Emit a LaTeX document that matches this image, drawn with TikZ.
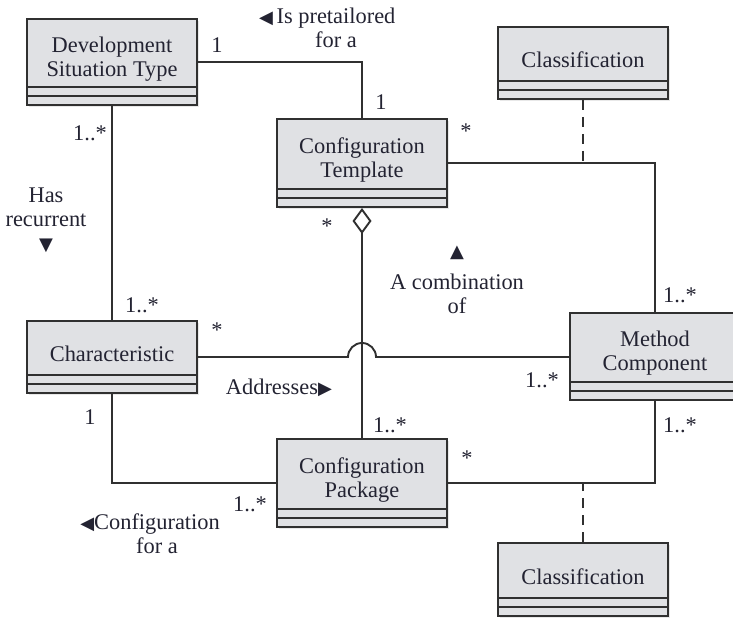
\documentclass[tikz,border=0pt]{standalone}
\usepackage{fontspec}
\setmainfont{Liberation Serif}
\newfontfamily\symfont{DejaVu Sans}
\usepackage{xcolor}
\definecolor{classfill}{RGB}{224,225,228}
\definecolor{classdraw}{RGB}{48,48,48}
\definecolor{inkblue}{RGB}{35,35,50}
\usepackage{tikz}
\usetikzlibrary{arrows.meta}
\usetikzlibrary{shadows}
\newcommand{\widthclass}{85pt}
\newcommand{\heightcomp}{4.5pt}
\newcommand{\hopradius}{7pt}
\newcommand{\dirleft}{{\symfont\fontsize{9}{9}\selectfont ◀}}
\newcommand{\dirright}{{\symfont\fontsize{9}{9}\selectfont ▶}}
\newcommand{\dirup}{{\symfont\fontsize{9}{9}\selectfont ▲}}
\newcommand{\dirdown}{{\symfont\fontsize{9}{9}\selectfont ▼}}
\tikzset{
    every node/.style={text=inkblue, font=\fontsize{11.2}{12}\selectfont},
    umlclass/.style={draw=classdraw, fill=classfill, line width=1pt, inner sep=0pt,
        minimum width=\widthclass, minimum height=#1,
        drop shadow={shadow xshift=0.8pt, shadow yshift=-0.8pt, opacity=0.18},
        path picture={
            \draw[classdraw, line width=1pt]
                ([yshift=\heightcomp]path picture bounding box.south west) -- ([yshift=\heightcomp]path picture bounding box.south east)
                ([yshift=2*\heightcomp]path picture bounding box.south west) -- ([yshift=2*\heightcomp]path picture bounding box.south east);
        }
    },
    classname/.style={align=center, yshift=1.5pt},
    mult/.style={inner sep=0pt},
    role/.style={align=center, inner sep=0pt},
    assoc/.style={classdraw, line width=0.95pt},
    classlink/.style={classdraw, line width=1.1pt, dash pattern=on 5pt off 3.5pt}
}

\begin{document}
\begin{tikzpicture}[x=0.5pt, y=-0.5pt]
    \useasboundingbox (0,0) rectangle (733,620);

    \node[umlclass=43pt, label={[classname]center:Development\\Situation Type}] (dst) at (112,62) {};
    \node[umlclass=44pt, label={[classname]center:Configuration\\Template}] (tmpl) at (362,163) {};
    \node[umlclass=36pt, label={[classname]center:Classification}] (clsTop) at (583,63) {};
    \node[umlclass=36pt, label={[classname]center:Characteristic}] (charac) at (112,357) {};
    \node[umlclass=43.5pt, label={[classname]center:Method\\Component}] (method) at (655,356) {};
    \node[umlclass=44pt, label={[classname]center:Configuration\\Package}] (pkg) at (362,483) {};
    \node[umlclass=36.5pt, label={[classname]center:Classification}] (clsBot) at (583,579.5) {};

    \coordinate (hop) at (tmpl.south |- charac.east);

    \draw[assoc] (dst.east) -| (tmpl.north);
    \draw[assoc] (dst.south) -- (charac.north);
    \draw[assoc] (tmpl.east) -| (method.north);
    \draw[assoc, -{Diamond[open, length=13pt, width=9.5pt]}] (pkg.north) -- (tmpl.south);
    \draw[assoc] (charac.east) -- ([xshift=-\hopradius]hop) arc (180:0:\hopradius) -- (method.west |- charac.east);
    \draw[assoc] (charac.south) |- (pkg.west);
    \draw[assoc] (method.south) |- (pkg.east);

    \draw[classlink] (clsTop.south) -- (clsTop.south |- tmpl.east);
    \draw[classlink] (clsBot.north) -- (clsBot.north |- pkg.east);

    \node[mult] (m-dst-tmpl) at (217,45) {1};
    \node[mult] (m-tmpl-dst) at (381,102) {1};
    \node[mult] (m-tmpl-meth) at (466,131) {*};
    \node[mult] (m-dst-char) at (90,133) {1..*};
    \node[mult] (m-char-dst) at (142,305) {1..*};
    \node[mult] (m-tmpl-pkg) at (327,226) {*};
    \node[mult] (m-meth-tmpl) at (680,295) {1..*};
    \node[mult] (m-char-meth) at (217,330) {*};
    \node[mult] (m-meth-char) at (542,380) {1..*};
    \node[mult] (m-char-pkg) at (90,417) {1};
    \node[mult] (m-pkg-tmpl) at (390,425) {1..*};
    \node[mult] (m-meth-pkg) at (680,425) {1..*};
    \node[mult] (m-pkg-meth) at (467,458) {*};
    \node[mult] (m-pkg-char) at (250,504) {1..*};

    \node[role] (r-pretailored) at (336,27.5) {\llap{\dirleft\,}Is pretailored\\for a};
    \node[role] (r-recurrent) at (46,220) {Has\\recurrent\\\dirdown};
    \node[role] (r-combination) at (457,280) {\dirup\\[4pt]A combination\\of};
    \node[role] (r-addresses) at (272,388) {Addresses\rlap{\dirright}};
    \node[role] (r-configfor) at (157,533.5) {\llap{\dirleft}Configuration\\for a};
\end{tikzpicture}
\end{document}
